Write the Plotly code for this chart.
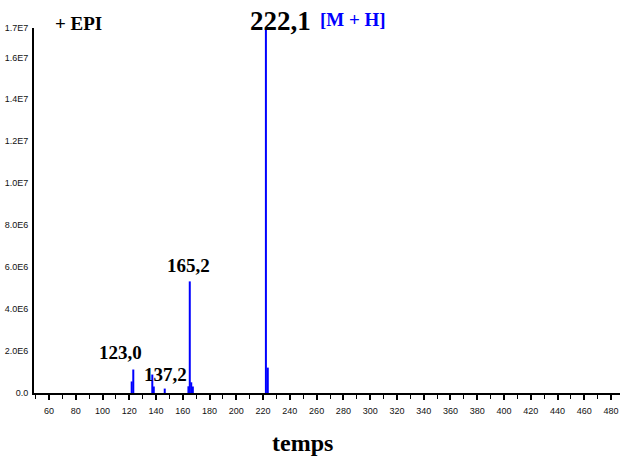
import plotly.graph_objects as go

# Mass spectrum (positive electrospray), stick peaks: m/z and intensity
mz = [121.8, 123.0, 137.2, 138.3, 146.5, 164.2, 165.2, 166.3, 167.5, 222.1, 223.5]
intensity = [0.55e6, 1.12e6, 0.88e6, 0.31e6, 0.21e6, 0.32e6, 5.32e6, 0.51e6, 0.31e6, 1.74e7, 1.21e6]

# Labelled peaks
peak_labels = ["123,0", "137,2", "165,2", "222,1"]
peak_mz = [123.0, 137.2, 165.2, 222.1]

# Axis ticks
y_tickvals = [0, 2e6, 4e6, 6e6, 8e6, 1.0e7, 1.2e7, 1.4e7, 1.6e7, 1.74e7]
y_ticktext = ["0.0", "2.0E6", "4.0E6", "6.0E6", "8.0E6", "1.0E7", "1.2E7", "1.4E7", "1.6E7", "1.7E7"]
x_tickvals = list(range(60, 481, 20))

BLUE = "#0000ff"
SERIF = "Liberation Serif, Times New Roman, serif"
TICKFONT = dict(family="Arial, Liberation Sans, sans-serif", size=9, color="#111")

# build vertical sticks from the peak list
xs, ys = [], []
for m, i in zip(mz, intensity):
    xs += [m, m, None]
    ys += [0, i, None]

fig = go.Figure()
fig.add_trace(go.Scatter(x=xs, y=ys, mode="lines",
                         line=dict(color=BLUE, width=2), hoverinfo="skip",
                         showlegend=False))

# label placement: (x, y, font size, coordinate system)
label_pos = {
    "123,0": (113.4, 1.93e6, 19, "data"),
    "137,2": (146.7, 0.88e6, 19, "data"),
    "165,2": (163.9, 6.06e6, 19, "data"),
    "222,1": (0.4198, 1.019, 27, "paper"),
}
for lab, m in zip(peak_labels, peak_mz):
    x, y, size, ref = label_pos[lab]
    xr, yr = ("x", "y") if ref == "data" else ("paper", "paper")
    fig.add_annotation(x=x, y=y, xref=xr, yref=yr, text=f"<b>{lab}</b>",
                       showarrow=False, xanchor="center", yanchor="middle",
                       font=dict(family=SERIF, size=size, color="black"))

fig.add_annotation(x=0.5444, y=1.022, xref="paper", yref="paper", text="<b>[M + H]</b>",
                   showarrow=False, xanchor="center", yanchor="middle",
                   font=dict(family=SERIF, size=19, color=BLUE))
fig.add_annotation(x=0.0751, y=1.011, xref="paper", yref="paper", text="<b>+ EPI</b>",
                   showarrow=False, xanchor="center", yanchor="middle",
                   font=dict(family=SERIF, size=19, color="black"))
fig.add_annotation(x=0.458, y=-0.137, xref="paper", yref="paper", text="<b>temps</b>",
                   showarrow=False, xanchor="center", yanchor="middle",
                   font=dict(family=SERIF, size=24, color="black"))

fig.update_xaxes(range=[48.8, 486.7], tickvals=x_tickvals,
                 ticktext=[str(v) for v in x_tickvals],
                 ticks="outside", ticklen=5, tickwidth=1.5, tickcolor="black",
                 minor=dict(dtick=10, tick0=50, ticks="outside", ticklen=4,
                            tickwidth=1.2, tickcolor="black"),
                 showline=True, linecolor="black", linewidth=2,
                 showgrid=False, zeroline=False,
                 tickfont=TICKFONT, ticklabelstandoff=3)
fig.update_yaxes(range=[0, 1.74e7], tickvals=y_tickvals, ticktext=y_ticktext,
                 ticks="", showline=True, linecolor="black", linewidth=2,
                 showgrid=False, zeroline=False,
                 tickfont=TICKFONT, ticklabelstandoff=2)

fig.update_layout(width=622, height=459,
                  margin=dict(l=34, r=2, t=28, b=66),
                  paper_bgcolor="white", plot_bgcolor="white")

fig.write_html("out.html")
